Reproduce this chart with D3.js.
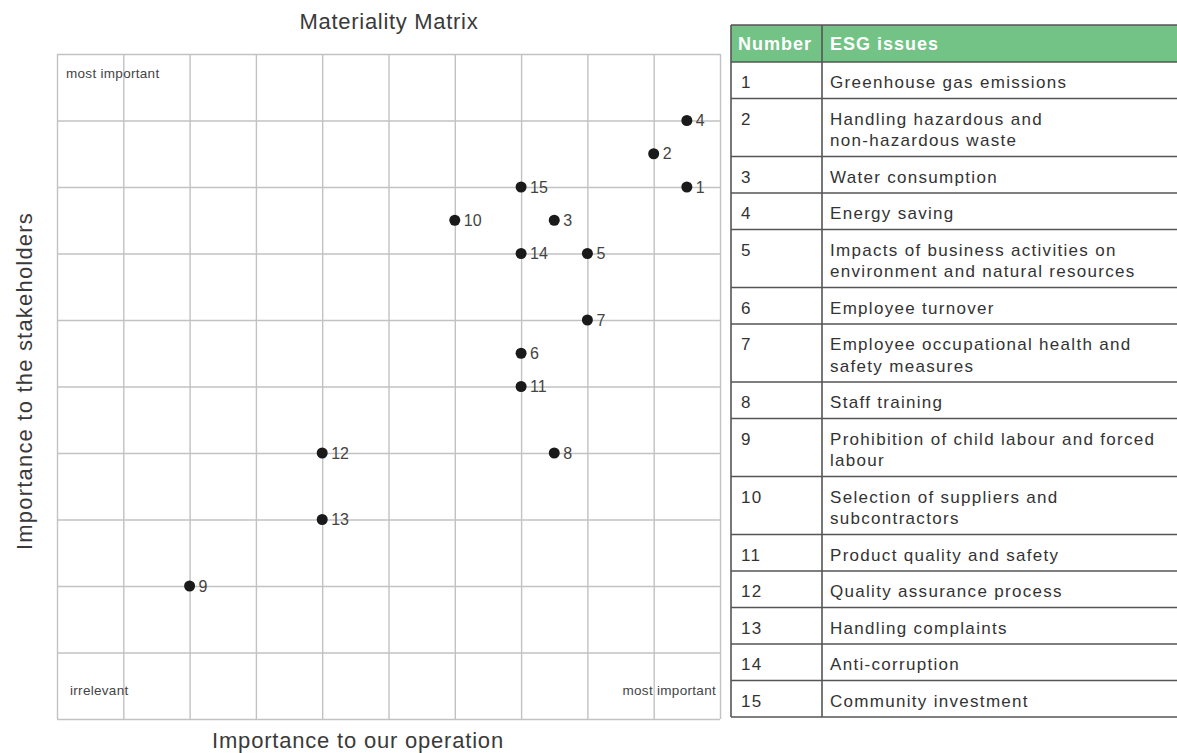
<!DOCTYPE html>
<html>
<head>
<meta charset="utf-8">
<script src="https://cdn.jsdelivr.net/npm/d3@7"></script>
<style>
  body { margin: 0; background: #fff; }
  svg { display: block; font-family: "Liberation Sans", Arial, sans-serif; }
</style>
</head>
<body>
<div id="chart"></div>
<script>
// Data
const ids = [1, 2, 3, 4, 5, 6, 7, 8, 9, 10, 11, 12, 13, 14, 15];
const issues = [
  "Greenhouse gas emissions",
  "Handling hazardous and\nnon-hazardous waste",
  "Water consumption",
  "Energy saving",
  "Impacts of business activities on\nenvironment and natural resources",
  "Employee turnover",
  "Employee occupational health and\nsafety measures",
  "Staff training",
  "Prohibition of child labour and forced\nlabour",
  "Selection of suppliers and\nsubcontractors",
  "Product quality and safety",
  "Quality assurance process",
  "Handling complaints",
  "Anti-corruption",
  "Community investment"
];
// importance to our operation (x) and to stakeholders (y), 0-10 grid units
const operation =    [9.5, 9, 7.5, 9.5, 8, 7, 8, 7.5, 2, 6, 7, 4, 4, 7, 7];
const stakeholders = [8, 8.5, 7.5, 9, 7, 5.5, 6, 4, 2, 7.5, 5, 4, 3, 7, 8];
const gridTicks = d3.range(0, 11);
const headers = ["Number", "ESG issues"];

const width = 1177, height = 753;
const plot = { left: 57, right: 720, top: 54, bottom: 719 };

const svg = d3.select("#chart").append("svg")
    .attr("width", width)
    .attr("height", height);

const x = d3.scaleLinear().domain([0, 10]).range([plot.left, plot.right]);
const y = d3.scaleLinear().domain([0, 10]).range([plot.bottom, plot.top]);

// Grid
const gridColor = "#c2c2c2";
const gx = svg.append("g")
    .attr("transform", `translate(0, ${plot.bottom})`)
    .call(d3.axisBottom(x).tickValues(gridTicks).tickSize(-(plot.bottom - plot.top)).tickFormat(""));
const gy = svg.append("g")
    .attr("transform", `translate(${plot.left}, 0)`)
    .call(d3.axisLeft(y).tickValues(gridTicks).tickSize(-(plot.right - plot.left)).tickFormat(""));
[gx, gy].forEach(g => {
  g.select(".domain").remove();
  g.selectAll("line").attr("stroke", gridColor).attr("stroke-width", 1.4);
});

// Corner labels
const corner = svg.append("g")
    .attr("font-size", 13.5)
    .attr("letter-spacing", 0.3)
    .attr("fill", "#444");
corner.append("text").attr("x", 66).attr("y", 78).text("most important");
corner.append("text").attr("x", 70).attr("y", 695).text("irrelevant");
corner.append("text").attr("x", 716).attr("y", 695).attr("text-anchor", "end").text("most important");

// Titles
svg.append("text")
    .attr("x", 389).attr("y", 29)
    .attr("text-anchor", "middle")
    .attr("font-size", 22).attr("letter-spacing", 0.7)
    .attr("fill", "#3a3a3a")
    .text("Materiality Matrix");
svg.append("text")
    .attr("x", 358).attr("y", 748)
    .attr("text-anchor", "middle")
    .attr("font-size", 22).attr("letter-spacing", 0.8)
    .attr("fill", "#3a3a3a")
    .text("Importance to our operation");
svg.append("text")
    .attr("transform", `translate(32, 381) rotate(-90)`)
    .attr("text-anchor", "middle")
    .attr("font-size", 22).attr("letter-spacing", 1.2)
    .attr("fill", "#3a3a3a")
    .text("Importance to the stakeholders");

// Points
const pts = svg.append("g")
  .selectAll("g")
  .data(ids)
  .join("g")
    .attr("transform", (d, i) => `translate(${x(operation[i])}, ${y(stakeholders[i])})`);
pts.append("circle")
    .attr("r", 5.5)
    .attr("fill", "#1a1a1a");
pts.append("text")
    .attr("x", 9)
    .attr("y", 5.5)
    .attr("font-size", 16)
    .attr("fill", "#444")
    .text(d => d);

///////////////////////////////////////////////////////////////////////////////
// Table
const table = { left: 731, mid: 822, right: 1185, top: 25, headH: 37, line: 21.5 };
const rowH = issues.map(s => s.includes("\n") ? 58 : 36.5);
const rowTop = [];
rowH.reduce((acc, h, i) => (rowTop[i] = acc, acc + h), table.top + table.headH);
const tableBottom = rowTop[rowTop.length - 1] + rowH[rowH.length - 1];

const tg = svg.append("g");
tg.append("rect")
    .attr("x", table.left).attr("y", table.top)
    .attr("width", table.right - table.left).attr("height", table.headH)
    .attr("fill", "#72c385");

tg.selectAll(".head")
  .data(headers)
  .join("text")
    .attr("x", (d, i) => i === 0 ? table.left + 7 : table.mid + 8)
    .attr("y", table.top + 25)
    .attr("font-size", 18)
    .attr("letter-spacing", 1)
    .attr("font-weight", "bold")
    .attr("fill", "#fff")
    .text(d => d);

const rows = tg.selectAll(".row")
  .data(ids)
  .join("g")
    .attr("transform", (d, i) => `translate(0, ${rowTop[i]})`);
rows.append("text")
    .attr("x", table.left + 10)
    .attr("y", 26)
    .attr("font-size", 17)
    .attr("letter-spacing", 1.3)
    .attr("fill", "#333")
    .text(d => d);
rows.append("text")
    .attr("font-size", 17)
    .attr("letter-spacing", 1.3)
    .attr("fill", "#333")
  .selectAll("tspan")
  .data((d, i) => issues[i].split("\n"))
  .join("tspan")
    .attr("x", table.mid + 8)
    .attr("y", (d, j) => 26 + j * table.line)
    .text(d => d);

// Table borders
const hLines = [table.top, table.top + table.headH].concat(rowTop.slice(1), [tableBottom]);
tg.selectAll(".hline")
  .data(hLines)
  .join("line")
    .attr("x1", table.left).attr("x2", table.right)
    .attr("y1", d => d).attr("y2", d => d)
    .attr("stroke", "#555").attr("stroke-width", 1.6);
tg.selectAll(".vline")
  .data([table.left, table.mid])
  .join("line")
    .attr("x1", d => d).attr("x2", d => d)
    .attr("y1", table.top).attr("y2", tableBottom)
    .attr("stroke", "#555").attr("stroke-width", 1.6);
</script>
</body>
</html>
